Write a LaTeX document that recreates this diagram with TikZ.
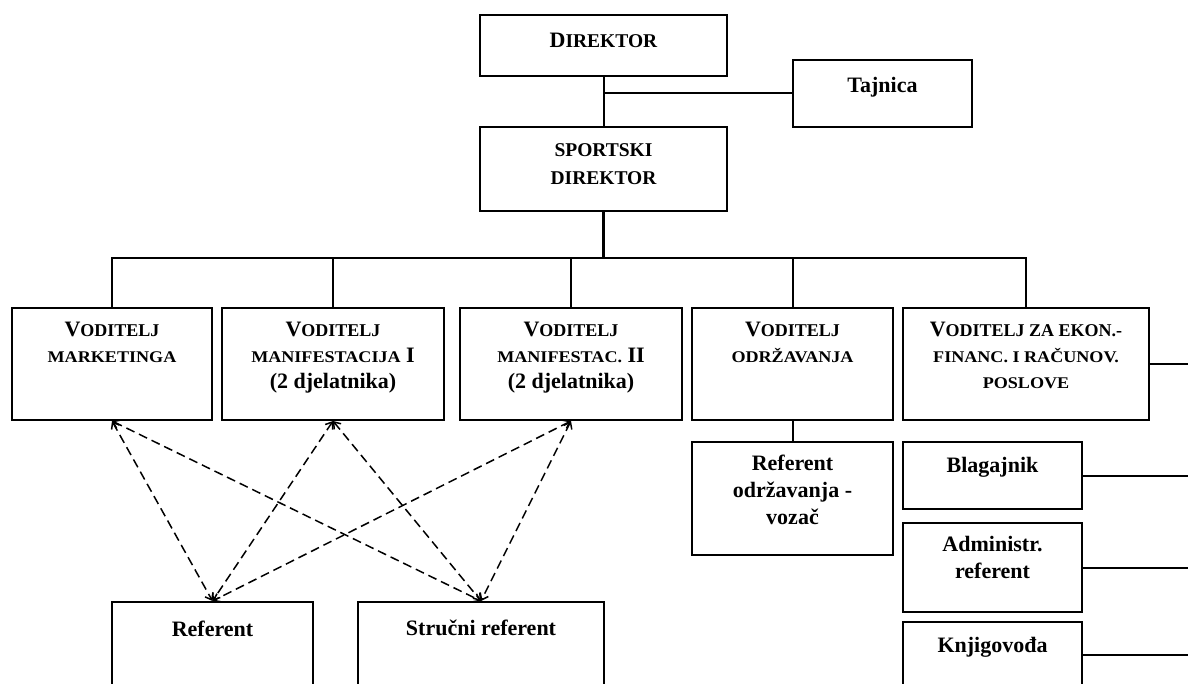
\documentclass[tikz,border=0pt]{standalone}
\usepackage{fontspec}
\setmainfont{Liberation Serif}
\newfontfamily\stretchfont[FakeStretch=1.11]{Liberation Serif}
\usetikzlibrary{arrows.meta}
\newcommand{\Lg}[1]{{\fontsize{22}{26}\selectfont #1}}
\newcommand{\Sd}[1]{{\fontsize{19.5}{26}\selectfont #1}}
\newcommand{\Sa}[1]{{\fontsize{18}{26}\selectfont #1}}
\newcommand{\Sb}[1]{{\stretchfont\bfseries\fontsize{16.3}{26}\selectfont #1}}
\begin{document}
\begin{tikzpicture}[x=1pt,y=-1pt,
  box/.style={draw, line width=2pt, inner sep=0pt, rectangle},
  txt/.style={anchor=north, align=center, inner sep=0pt, font=\bfseries\fontsize{22}{26}\selectfont, execute at begin node=\rule{0pt}{16pt}},
  link/.style={line width=2pt},
  dashlink/.style={line width=1.5pt, dash pattern=on 9pt off 5pt, >={Straight Barb[length=6pt,width=9pt]}, <->},
]
\useasboundingbox (0,0) rectangle (1188,684);
\clip (0,0) rectangle (1188,684);

% boxes
\node[box, minimum width=247pt, minimum height=61pt] (dir) at (603.5,45.5) {};
\node[box, minimum width=179pt, minimum height=67pt] (taj) at (882.5,93.5) {};
\node[box, minimum width=247pt, minimum height=84pt] (sd) at (603.5,169) {};

\node[box, minimum width=200pt, minimum height=112pt] (mk) at (112,364) {};
\node[box, minimum width=222pt, minimum height=112pt] (m1) at (333,364) {};
\node[box, minimum width=222pt, minimum height=112pt] (m2) at (571,364) {};
\node[box, minimum width=201pt, minimum height=112pt] (od) at (792.5,364) {};
\node[box, minimum width=246pt, minimum height=112pt] (ek) at (1026,364) {};

\node[box, minimum width=201pt, minimum height=113pt] (ro) at (792.5,498.5) {};
\node[box, minimum width=179pt, minimum height=67pt] (bl) at (992.5,475.5) {};
\node[box, minimum width=179pt, minimum height=89pt] (ad) at (992.5,567.5) {};
\node[box, minimum width=179pt, minimum height=66pt] (kn) at (992.5,655) {};

\node[box, minimum width=201pt, minimum height=110pt] (ref) at (212.5,657) {};
\node[box, minimum width=246pt, minimum height=110pt] (sr) at (481,657) {};

% texts (first baseline = north + 16pt)
\node[txt] (dir-t) at ([yshift=-17pt]dir.north) {\Lg{D}\Sd{IREKTOR}};
\node[txt] (taj-t) at ([yshift=-17pt]taj.north) {Tajnica};
\node[txt] (sd-t) at ([yshift=-17pt]sd.north) {\Sd{SPORTSKI}\\[2pt]\Sd{DIREKTOR}};

\node[txt] (mk-t) at ([yshift=-15pt]mk.north) {\Lg{V}\Sa{ODITELJ}\\\Sb{MARKETINGA}};
\node[txt] (m1-t) at ([yshift=-15pt]m1.north) {\Lg{V}\Sa{ODITELJ}\\\Sb{MANIFESTACIJA} I\\(2 djelatnika)};
\node[txt] (m2-t) at ([yshift=-15pt]m2.north) {\Lg{V}\Sa{ODITELJ}\\\Sb{MANIFESTAC.} II\\(2 djelatnika)};
\node[txt] (od-t) at ([yshift=-15pt]od.north) {\Lg{V}\Sa{ODITELJ}\\\Sb{ODRŽAVANJA}};
\node[txt] (ek-t) at ([yshift=-15pt]ek.north) {\Lg{V}\Sa{ODITELJ ZA EKON.-}\\\Sb{FINANC. I RAČUNOV.}\\\Sb{POSLOVE}};

\node[txt] (ro-t) at ([yshift=-14pt]ro.north) {Referent\\[1pt]održavanja -\\[1pt]vozač};
\node[txt] (bl-t) at ([yshift=-15pt]bl.north) {Blagajnik};
\node[txt] (ad-t) at ([yshift=-14pt]ad.north) {Administr.\\[1pt]referent};
\node[txt] (kn-t) at ([yshift=-15pt]kn.north) {Knjigovođa};
\node[txt] (ref-t) at ([yshift=-19pt]ref.north) {Referent};
\node[txt] (sr-t) at ([yshift=-18pt]sr.north) {Stručni referent};

% connectors
\coordinate (bus) at (603.5,258);
\coordinate (edge) at (1188,0);
\draw[link] (dir.south) -- (sd.north);
\draw[link] (dir.south |- taj.west) -- (taj.west);
\draw[line width=3pt] (sd.south) -- (bus);
\draw[link] (mk.north) -- (mk.north |- bus) -- (ek.north |- bus) -- (ek.north);
\foreach \n in {m1,m2,od} \draw[link] (\n.north) -- (\n.north |- bus);
\draw[link] (od.south) -- (ro.north);
\foreach \n in {ek,bl,ad,kn} \draw[link] (\n.east) -- (\n.east -| edge);
\foreach \s in {mk,m1,m2} \foreach \t in {ref,sr} \draw[dashlink] (\s.south) -- (\t.north);
\end{tikzpicture}
\end{document}
